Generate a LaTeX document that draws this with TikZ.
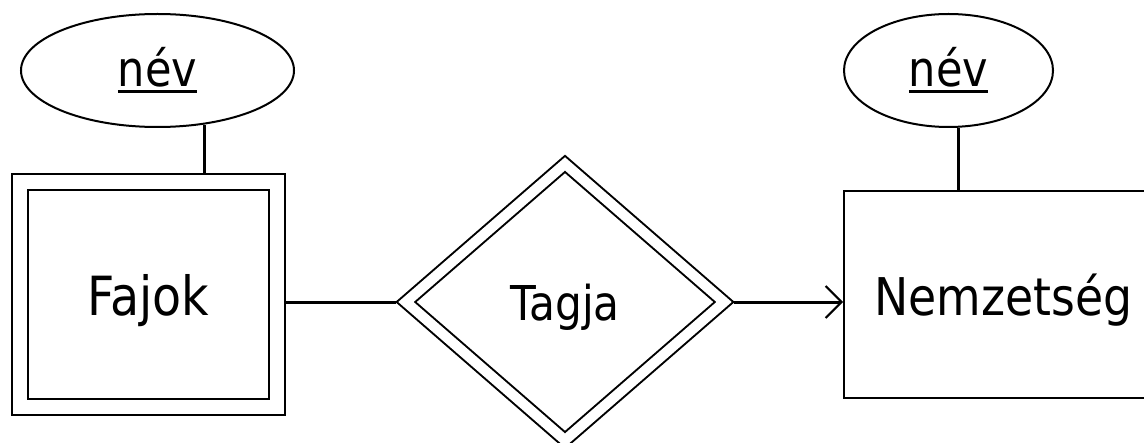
\documentclass[tikz,border=0pt]{standalone}
\usepackage{fontspec}
\setmainfont[FakeStretch=0.88]{DejaVu Sans}
\usetikzlibrary{shapes.geometric,arrows.meta}

\newcommand{\kulcs}[1]{\setbox0\hbox{#1}\rlap{\vrule height -1.8pt depth 3.2pt width \wd0}\box0}

\tikzset{
  entity/.style={draw, rectangle, line width=1pt, inner sep=0pt, text depth=0pt, font=\fontsize{26}{30}\selectfont},
  weakentity/.style={entity, double, double distance=7pt, outer sep=4pt},
  attrib/.style={draw, ellipse, line width=1pt, inner sep=0pt, font=\fontsize{24.5}{28}\selectfont},
  weakrel/.style={draw, diamond, line width=1pt, double, double distance=5pt, inner sep=0pt, outer sep=3.5pt, text depth=0pt, font=\fontsize{24}{28}\selectfont},
  conn/.style={line width=1.5pt}
}

\begin{document}
\begin{tikzpicture}[x=0.5pt, y=-0.5pt]
    \useasboundingbox (0,0) rectangle (1144,443);

    %% attributes
    \node[attrib, minimum width=136.5pt, minimum height=56.5pt] (nevA) at (157.5,70.5) {\kulcs{név}};
    \node[attrib, minimum width=104.5pt, minimum height=56.5pt] (nevB) at (948.5,70.5) {\kulcs{név}};

    %% entities
    \node[weakentity, minimum width=128.5pt, minimum height=112pt, font=\fontsize{27}{30}\selectfont] (fajok) at (148.5,294.5) {Fajok};
    \node[entity, minimum width=159.5pt, minimum height=103.5pt] (nemz) at (1003.5,294.5) {Nemzetség};

    %% relationship
    \node[weakrel, minimum width=162pt, minimum height=141pt] (tagja) at (565,302) {Tagja};

    %% connectors
    \draw[conn] (nevA.-49) -- (nevA.-49 |- fajok.north);
    \draw[conn] (nevB.-80) -- (nevB.-80 |- nemz.north);
    \draw[conn] (tagja.west -| fajok.east) -- (tagja.west);
    \draw[conn, -{Straight Barb[length=8pt, width=16pt, line width=1pt]}] (tagja.east) -- (tagja.east -| nemz.west);
\end{tikzpicture}
\end{document}
